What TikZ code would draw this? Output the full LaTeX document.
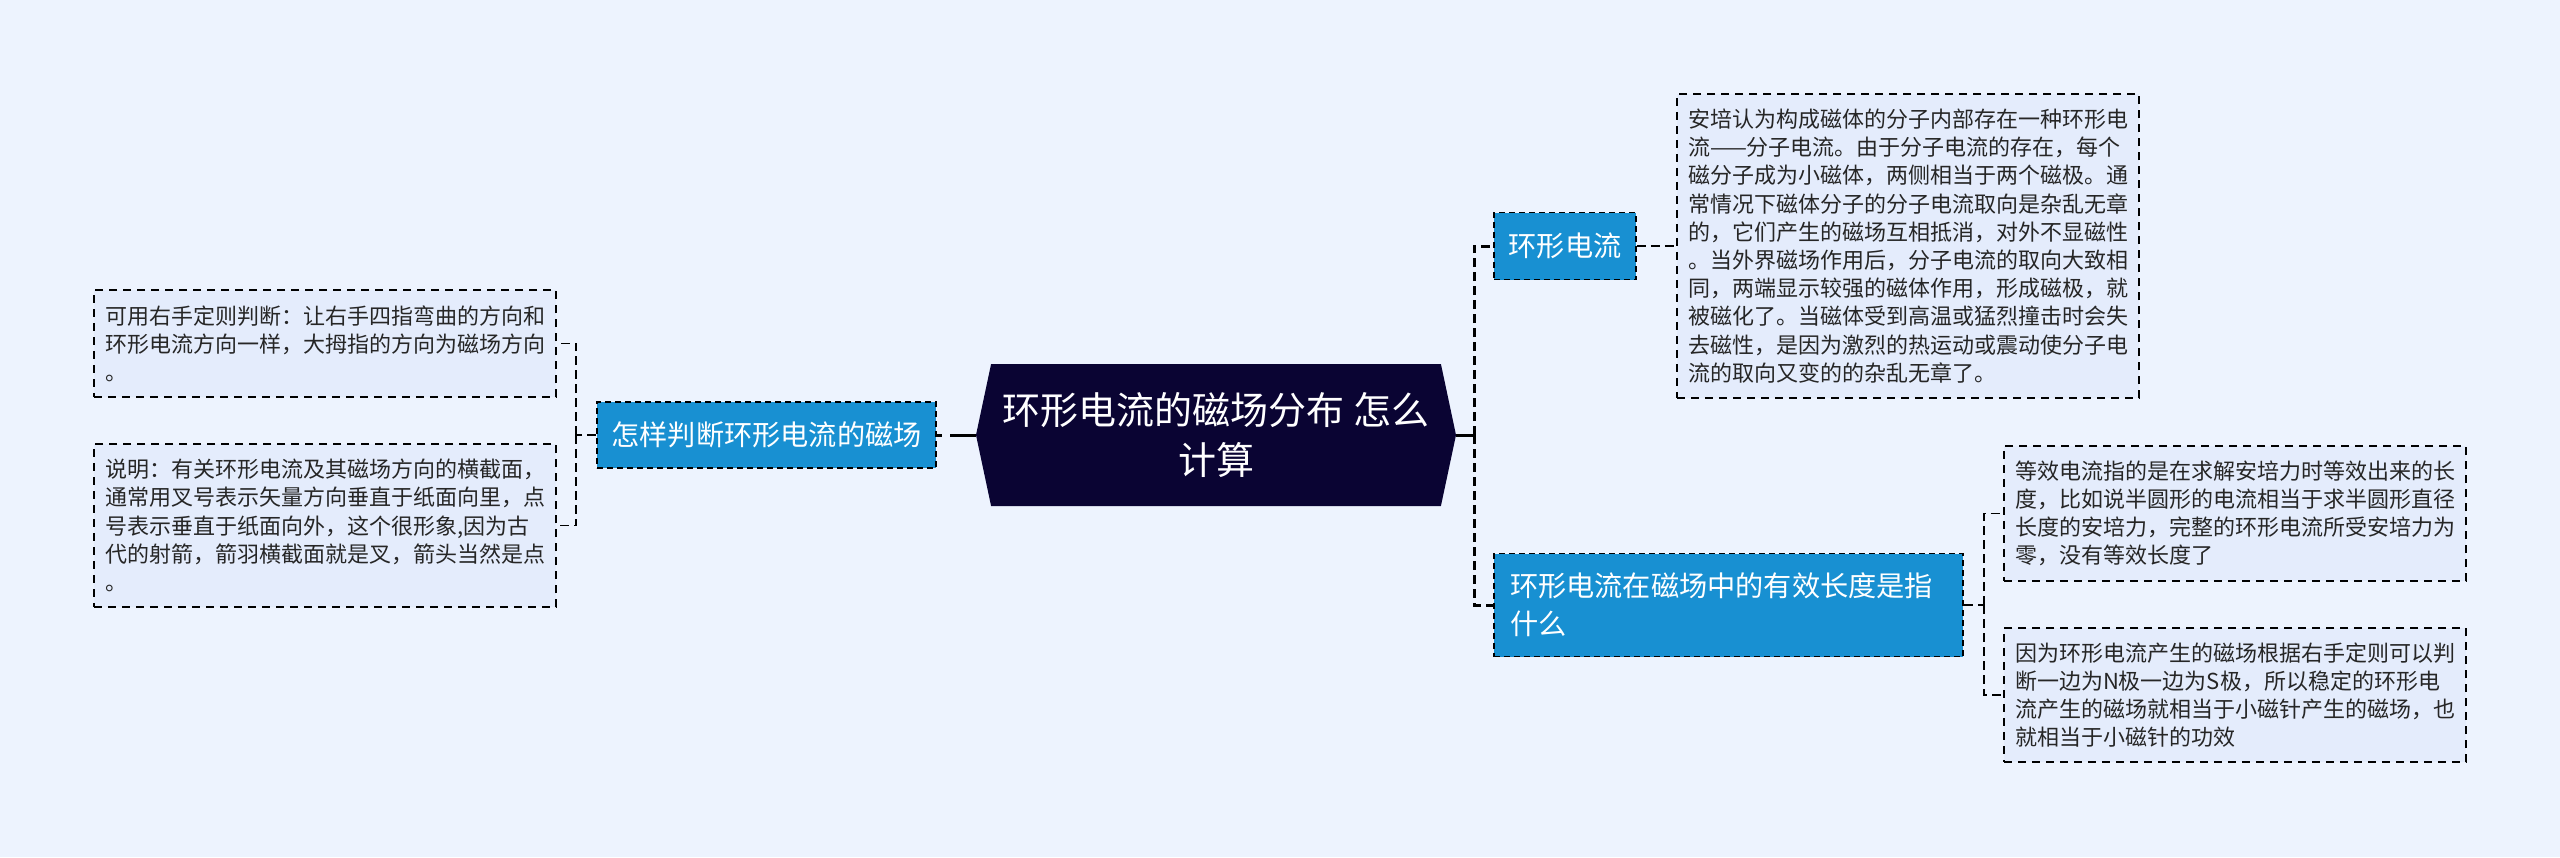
\documentclass[tikz,border=0pt]{standalone}
\usepackage{fontspec}
\setmainfont{Noto Sans CJK SC}
\usetikzlibrary{shapes.symbols}

\definecolor{pagebg}{HTML}{EDF3FE}
\definecolor{rootbg}{HTML}{0A0433}
\definecolor{topicbg}{HTML}{1890D2}
\definecolor{notebg}{HTML}{E4ECFC}

\tikzset{
  rootnode/.style={shape=signal, signal to=east and west, signal from=nowhere, signal pointer angle=156,
    fill=rootbg, text=white, align=center, inner xsep=0pt, inner ysep=0pt,
    minimum width=480pt, minimum height=142pt, font=\fontsize{38}{50}\selectfont},
  topic/.style={fill=topicbg, text=white, draw=black, line width=1.8pt, dash pattern=on 6pt off 4pt,
    align=left, inner xsep=0pt, inner ysep=0pt, font=\fontsize{28.2}{38}\selectfont},
  note/.style={fill=notebg, text=black!85, draw=black, line width=1.8pt, dash pattern=on 8pt off 6pt,
    align=left, text width=440pt, inner xsep=11pt, inner ysep=0pt, font=\fontsize{22}{28.2}\selectfont},
  rootlink/.style={draw=black, line width=3pt},
  mainlink/.style={draw=black, line width=3pt, dash pattern=on 9pt off 5pt},
  sublink/.style={draw=black, line width=1.5pt, dash pattern=on 9pt off 5pt},
}

\begin{document}
\begin{tikzpicture}[x=1pt,y=-1pt]
      \fill[pagebg] (0,0) rectangle (2560,857);
      \useasboundingbox (0,0) rectangle (2560,857);

      \node[rootnode] (root) at (1216,435) {环形电流的磁场分布 怎么\\计算};
      \coordinate (trunk) at (1474,435);
      \coordinate (branch) at (576,435);

      % left
      \begin{scope}
        \node[topic, minimum width=339pt, minimum height=66pt] (judge) at (766.5,435) {怎样判断环形电流的磁场};
        \node[note, minimum height=107pt] (rule) at (325,343.5) {可用右手定则判断：让右手四指弯曲的方向和\\环形电流方向一样，大拇指的方向为磁场方向\\。};
        \node[note, minimum height=163pt] (remark) at (325,525.5) {说明：有关环形电流及其磁场方向的横截面，\\通常用叉号表示矢量方向垂直于纸面向里，点\\号表示垂直于纸面向外，这个很形象,因为古\\代的射箭，箭羽横截面就是叉，箭头当然是点\\。};
        \draw[rootlink, dash pattern=on 26pt off 8pt on 6pt off 8pt] (root.west) -- (judge.east);
        \draw[sublink] (judge.west) -- (branch);
        \draw[sublink] (branch) |- (rule.east);
        \draw[sublink] (branch) |- (remark.east);
      \end{scope}

      % right, upper
      \begin{scope}
        \node[topic, minimum width=142pt, minimum height=67pt] (loop) at (1565,246) {环形电流};
        \node[note, minimum height=304pt] (ampere) at (1908,246) {安培认为构成磁体的分子内部存在一种环形电\\流——分子电流。由于分子电流的存在，每个\\磁分子成为小磁体，两侧相当于两个磁极。通\\常情况下磁体分子的分子电流取向是杂乱无章\\的，它们产生的磁场互相抵消，对外不显磁性\\。当外界磁场作用后，分子电流的取向大致相\\同，两端显示较强的磁体作用，形成磁极，就\\被磁化了。当磁体受到高温或猛烈撞击时会失\\去磁性，是因为激烈的热运动或震动使分子电\\流的取向又变的的杂乱无章了。};
        \draw[rootlink] (root.east) -- (trunk);
        \draw[mainlink] (trunk) |- (loop.west);
        \draw[sublink] (loop.east) -- (ampere.west);
      \end{scope}

      % right, lower
      \begin{scope}
        \node[topic, text width=437pt, inner xsep=16pt, minimum height=103pt] (length) at (1728.5,605) {环形电流在磁场中的有效长度是指\\什么};
        \node[note, minimum height=135pt] (equal) at (2235,513.5) {等效电流指的是在求解安培力时等效出来的长\\度，比如说半圆形的电流相当于求半圆形直径\\长度的安培力，完整的环形电流所受安培力为\\零，没有等效长度了};
        \node[note, minimum height=134pt] (needle) at (2235,695) {因为环形电流产生的磁场根据右手定则可以判\\断一边为N极一边为S极，所以稳定的环形电\\流产生的磁场就相当于小磁针产生的磁场，也\\就相当于小磁针的功效};
        \coordinate (fork) at (1984,605);
        \draw[mainlink] (trunk) |- (length.west);
        \draw[sublink] (length.east) -- (fork);
        \draw[sublink] (fork) |- (equal.west);
        \draw[sublink] (fork) |- (needle.west);
      \end{scope}
    \end{tikzpicture}
\end{document}
